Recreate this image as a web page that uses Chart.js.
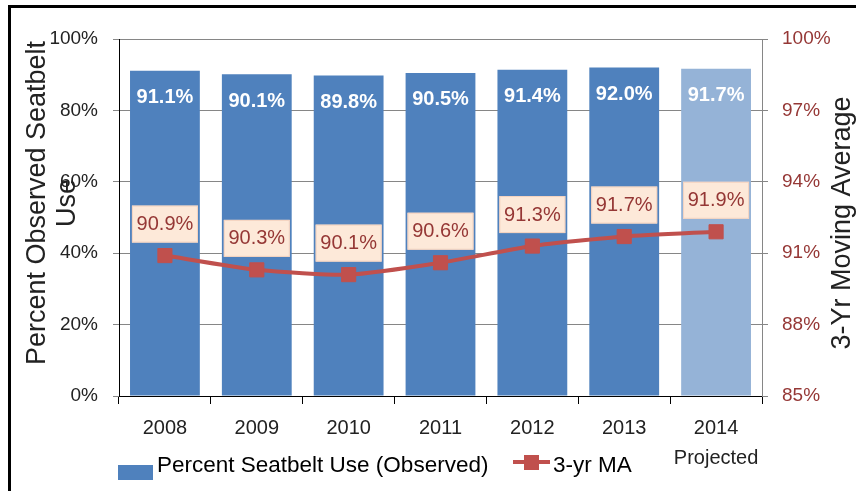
<!DOCTYPE html>
<html>
<head>
<meta charset="utf-8">
<script src="https://cdn.jsdelivr.net/npm/chart.js@4.4.1/dist/chart.umd.min.js"></script>
<style>
  html, body { margin: 0; padding: 0; background: #fff; }
  canvas { display: block; }
</style>
</head>
<body>
<canvas id="seatbelt-chart" width="856" height="491"></canvas>
<script>
// chart values
var years = ["2008", "2009", "2010", "2011", "2012", "2013", ["2014", "Projected"]];
var observed = [91.1, 90.1, 89.8, 90.5, 91.4, 92.0, 91.7];
var moving_avg = [90.9, 90.3, 90.1, 90.6, 91.3, 91.7, 91.9];
var bar_colors = ["#4F81BD", "#4F81BD", "#4F81BD", "#4F81BD", "#4F81BD", "#4F81BD", "#95B3D7"];
var left_ticks = { min: 0, max: 100, step: 20 };
var right_ticks = { min: 85, max: 100, step: 3 };
var left_title = ["Percent Observed Seatbelt", "Use"];
var right_title = "3-Yr Moving Average";

var FONT = "'Liberation Sans', Arial, sans-serif";
Chart.defaults.font.family = FONT;

function pct(v) { return v + "%"; }

var extras = {
  id: "extras",
  beforeDraw: function(chart) {
    var c = chart.ctx;
    c.save();
    c.fillStyle = "#fff";
    c.fillRect(0, 0, chart.width, chart.height);
    c.strokeStyle = "#000";
    c.lineWidth = 3;
    c.strokeRect(9.5, 6.5, 900, 600);
    c.restore();
  },
  afterDatasetsDraw: function(chart) {
    var c = chart.ctx;
    var bars = chart.getDatasetMeta(0).data;
    var pts = chart.getDatasetMeta(1).data;
    c.save();
    c.textAlign = "center";
    c.textBaseline = "middle";
    // bar labels
    c.font = "bold 20px " + FONT;
    c.fillStyle = "#fff";
    for (var i = 0; i < bars.length; i++) {
      c.fillText(observed[i].toFixed(1) + "%", bars[i].x, bars[i].y + 27);
    }
    // moving average labels
    c.font = "20px " + FONT;
    for (var j = 0; j < pts.length; j++) {
      var cx = pts[j].x, cy = pts[j].y - 32;
      c.fillStyle = "#FDE9D9";
      c.fillRect(cx - 33, cy - 18, 66, 37);
      c.strokeStyle = "#F4D2BF";
      c.lineWidth = 1;
      c.strokeRect(cx - 32.5, cy - 17.5, 65, 36);
      c.fillStyle = "#953735";
      c.fillText(moving_avg[j].toFixed(1) + "%", cx, cy + 1);
    }
    c.restore();
  },
  afterDraw: function(chart) {
    var c = chart.ctx;
    var ds = chart.data.datasets;
    c.save();
    c.font = "27px " + FONT;
    c.fillStyle = "#222";
    c.textAlign = "center";
    c.textBaseline = "middle";
    // left axis title, two lines
    c.save();
    c.translate(38, 203);
    c.rotate(-Math.PI / 2);
    c.fillText(left_title[0], 0, 0);
    c.fillText(left_title[1], 0, 30);
    c.restore();
    // right axis title, reads bottom to top
    c.translate(843, 223);
    c.rotate(-Math.PI / 2);
    c.fillText(right_title, 0, 0);
    c.restore();

    // legend
    c.save();
    c.font = "22.5px " + FONT;
    c.textBaseline = "alphabetic";
    c.fillStyle = "#4F81BD";
    c.fillRect(118, 465, 35, 15);
    c.fillStyle = "#000";
    c.fillText(ds[0].label, 157, 472);
    c.strokeStyle = "#C0504D";
    c.lineWidth = 4;
    c.beginPath();
    c.moveTo(513, 462);
    c.lineTo(550, 462);
    c.stroke();
    c.fillStyle = "#C0504D";
    c.fillRect(524, 455, 15, 15);
    c.fillStyle = "#000";
    c.fillText(ds[1].label, 553, 472);
    c.restore();
  }
};

var ctx = document.getElementById("seatbelt-chart");
var seatbeltChart = new Chart(ctx, {
  type: "bar",
  data: {
    labels: years,
    datasets: [
      {
        type: "bar",
        label: "Percent Seatbelt Use (Observed)",
        data: observed,
        backgroundColor: bar_colors,
        categoryPercentage: 1,
        barPercentage: 0.76,
        yAxisID: "y",
        order: 1
      },
      {
        type: "line",
        label: "3-yr MA",
        data: moving_avg,
        borderColor: "#C0504D",
        borderWidth: 4,
        tension: 0.2,
        pointStyle: "rect",
        pointRadius: 10,
        pointBackgroundColor: "#C0504D",
        pointBorderColor: "#C0504D",
        pointBorderWidth: 1,
        yAxisID: "y1",
        order: 0
      }
    ]
  },
  options: {
    responsive: false,
    animation: false,
    layout: { padding: { top: 39, left: 0, right: 0, bottom: 0 } },
    plugins: {
      legend: { display: false },
      tooltip: { enabled: false }
    },
    scales: {
      x: {
        offset: true,
        grid: { offset: true, drawOnChartArea: false, tickLength: 8, color: "#000" },
        border: { color: "#000" },
        ticks: { font: { size: 20, lineHeight: 1.5 }, color: "#222", padding: 9, maxRotation: 0, autoSkip: false },
        afterFit: function(s) { s.height = 95; }
      },
      y: {
        position: "left",
        min: left_ticks.min,
        max: left_ticks.max,
        ticks: { stepSize: left_ticks.step, padding: 15, font: { size: 19 }, color: "#222", callback: pct },
        grid: { color: "#868686", tickLength: 6 },
        border: { color: "#000" },
        afterFit: function(s) { s.width = 119; }
      },
      y1: {
        position: "right",
        min: right_ticks.min,
        max: right_ticks.max,
        ticks: { stepSize: right_ticks.step, padding: 14, font: { size: 19 }, color: "#953735", callback: pct },
        grid: { drawOnChartArea: false, tickLength: 6, color: "#868686" },
        border: { color: "#868686" },
        afterFit: function(s) { s.width = 94; }
      }
    }
  },
  plugins: [extras]
});
</script>
</body>
</html>
